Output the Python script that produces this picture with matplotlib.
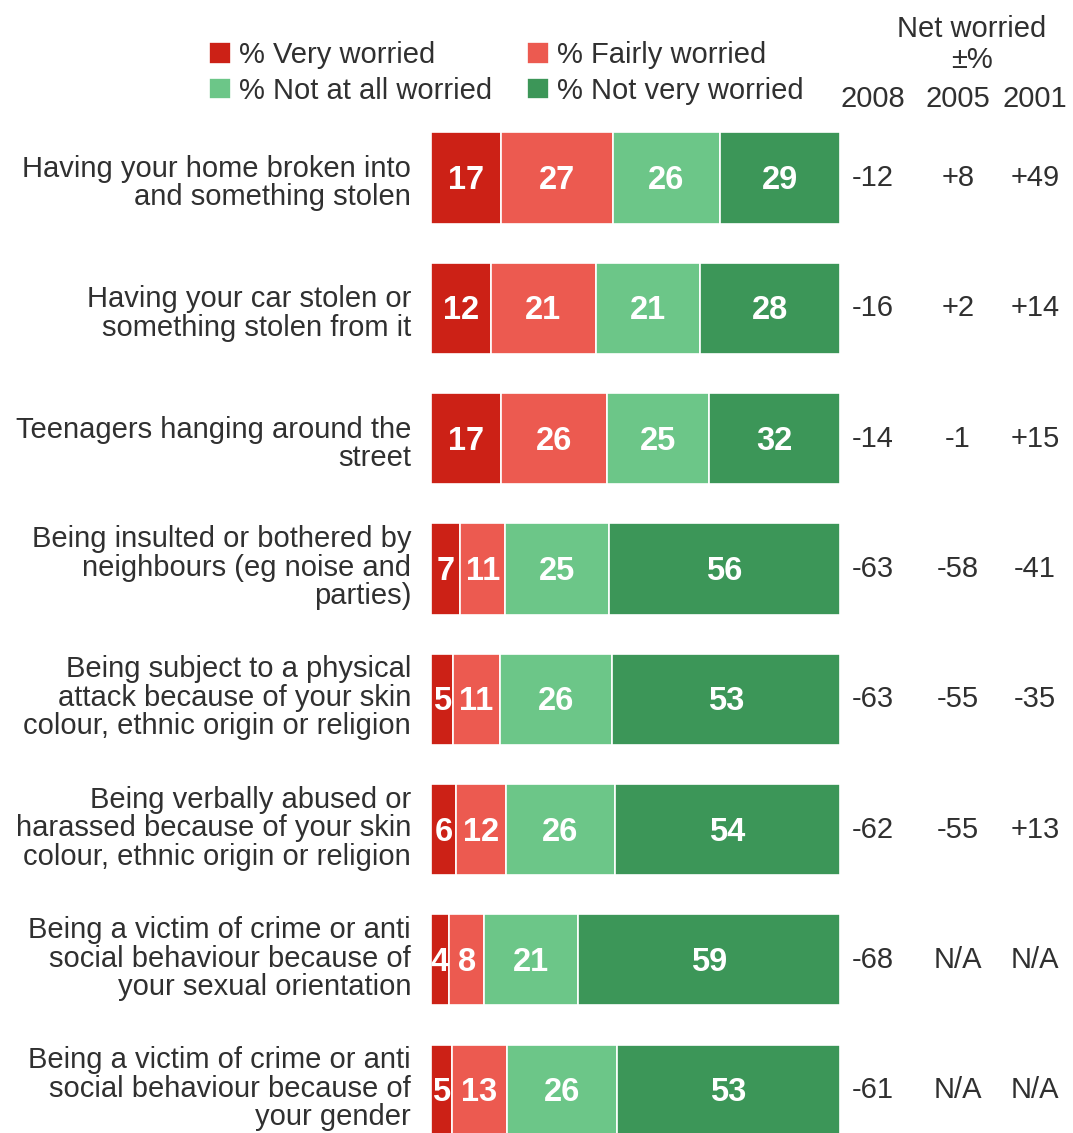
import matplotlib.pyplot as plt

plt.rcParams['font.family'] = ['Liberation Sans', 'DejaVu Sans']

categories = [
    "Having your home broken into\nand something stolen",
    "Having your car stolen or\nsomething stolen from it",
    "Teenagers hanging around the\nstreet",
    "Being insulted or bothered by\nneighbours (eg noise and\nparties)",
    "Being subject to a physical\nattack because of your skin\ncolour, ethnic origin or religion",
    "Being verbally abused or\nharassed because of your skin\ncolour, ethnic origin or religion",
    "Being a victim of crime or anti\nsocial behaviour because of\nyour sexual orientation",
    "Being a victim of crime or anti\nsocial behaviour because of\nyour gender",
]
very = [17, 12, 17, 7, 5, 6, 4, 5]
fairly = [27, 21, 26, 11, 11, 12, 8, 13]
not_at_all = [26, 21, 25, 25, 26, 26, 21, 26]
not_very = [29, 28, 32, 56, 53, 54, 59, 53]
net_2008 = ["-12", "-16", "-14", "-63", "-63", "-62", "-68", "-61"]
net_2005 = ["+8", "+2", "-1", "-58", "-55", "-55", "N/A", "N/A"]
net_2001 = ["+49", "+14", "+15", "-41", "-35", "+13", "N/A", "N/A"]
years = ["2008", "2005", "2001"]

series = [
    ("% Very worried", very, "#CC2116"),
    ("% Fairly worried", fairly, "#EC5A50"),
    ("% Not at all worried", not_at_all, "#6CC688"),
    ("% Not very worried", not_very, "#3C9658"),
]

TXT = '#303030'
FS = 21

W, H = 1073, 1133
fig = plt.figure(figsize=(W / 100, H / 100), dpi=100)
ax = fig.add_axes([431 / W, 0, 409 / W, 1])
ax.set_xlim(0, 1)
ax.set_ylim(7.329, -1.366)
ax.axis('off')

rows = range(len(categories))
totals = [sum(v) for v in zip(very, fairly, not_at_all, not_very)]
left = [0.0] * len(categories)
handles = {}
for name, vals, color in series:
    widths = [v / t for v, t in zip(vals, totals)]
    bars = ax.barh(rows, widths, left=left, height=0.7, color=color,
                   edgecolor='white', linewidth=1.2)
    handles[name] = bars
    for i, (v, w) in enumerate(zip(vals, widths)):
        ax.text(left[i] + w / 2, i + 0.02, str(v), ha='center', va='center',
                color='white', fontsize=23.5, fontweight='bold')
    left = [l + w for l, w in zip(left, widths)]

# category labels to the left of the bars
for i, lab in enumerate(categories):
    dy = 0.04 if lab.count('\n') == 1 else -0.01
    ax.text(-20 / 409, i + dy, lab, ha='right', va='center', fontsize=FS,
            color=TXT, linespacing=1.02)

# net worried columns
col_x = [873, 958, 1035]
for i in rows:
    for cx, col in zip(col_x, (net_2008, net_2005, net_2001)):
        ax.text((cx - 431) / 409, i, col[i], ha='center', va='center',
                fontsize=FS, color=TXT)

for cx, yr in zip(col_x, years):
    fig.text(cx / W, 1 - 99 / H, yr, ha='center', va='center', fontsize=FS, color=TXT)
fig.text(972 / W, 1 - 29 / H, "Net worried", ha='center', va='center', fontsize=FS, color=TXT)
fig.text(972 / W, 1 - 60 / H, "±%", ha='center', va='center', fontsize=FS, color=TXT)

order = ["% Very worried", "% Not at all worried", "% Fairly worried", "% Not very worried"]
fig.legend([handles[n] for n in order], order, ncol=2, loc='upper left',
           bbox_to_anchor=(209 / W, 1 - 41 / H), frameon=False, fontsize=FS,
           handlelength=0.75, handleheight=0.75, handletextpad=0.27,
           columnspacing=1.2, labelspacing=0.26, borderaxespad=0, borderpad=0,
           labelcolor=TXT)

fig.savefig('out.png', dpi=100)
